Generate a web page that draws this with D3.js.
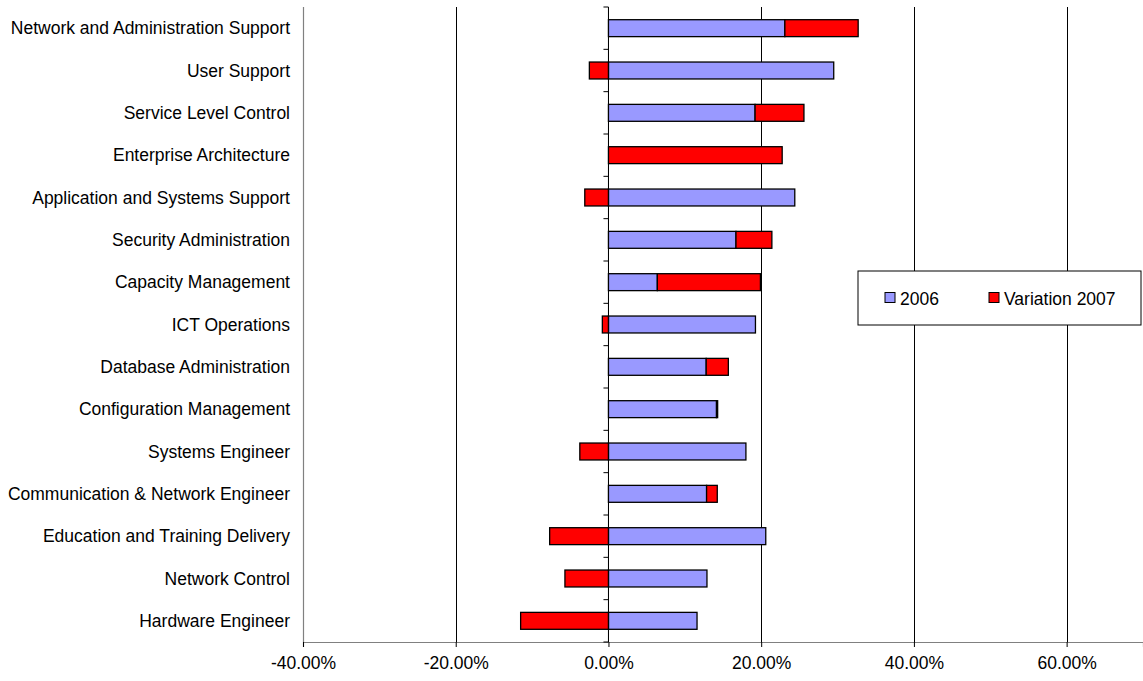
<!DOCTYPE html>
<html><head><meta charset="utf-8">
<script src="https://cdn.jsdelivr.net/npm/d3@7"></script>
<style>body{margin:0;background:#fff;} text{font-family:Arial,"Liberation Sans",sans-serif;}</style>
</head><body>
<svg id="c" width="1143" height="681"></svg>
<script>
const categories = ["Network and Administration Support","User Support","Service Level Control","Enterprise Architecture","Application and Systems Support","Security Administration","Capacity Management","ICT Operations","Database Administration","Configuration Management","Systems Engineer","Communication & Network Engineer","Education and Training Delivery","Network Control","Hardware Engineer"];
const values2006 = [23.1,29.5,19.2,0,24.4,16.7,6.4,19.25,12.8,14.15,18.0,12.85,20.6,12.9,11.6];
const variation2007 = [9.6,-2.5,6.4,22.75,-3.1,4.7,13.5,-0.8,2.9,0.15,-3.75,1.4,-7.7,-5.7,-11.5];
const xTicks = [-40,-20,0,20,40,60];
const seriesNames = ["2006","Variation 2007"];
const colors = ["#9999FF","#FF0000"];

const FS = 17.5;
const svg = d3.select("#c");
const pL = 303, pR = 1143, pT = 7, pB = 642;
const x = d3.scaleLinear().domain([-40,70]).range([pL,pR]);
const y = d3.scaleBand().domain(categories).range([pT,pB]).paddingInner(0.6).paddingOuter(0.3);
const yb = d3.scaleBand().domain(categories).range([pT,pB]);

// gridlines
svg.append("g").selectAll("line").data(xTicks.filter(d=>d!==-40)).join("line")
  .attr("x1",d=>Math.round(x(d))+0.5).attr("x2",d=>Math.round(x(d))+0.5).attr("y1",pT).attr("y2",pB)
  .attr("stroke","#000").attr("stroke-width",1);

// left axis line
svg.append("line").attr("x1",pL+0.5).attr("x2",pL+0.5).attr("y1",pT).attr("y2",pB)
  .attr("stroke","#808080").attr("stroke-width",1.2);

// bottom axis
const xAxis = d3.axisBottom(x).tickValues(xTicks).tickSize(5).tickPadding(10)
  .tickFormat(d=>d.toFixed(2)+"%");
const gx = svg.append("g").attr("transform",`translate(0,${pB})`).call(xAxis);
gx.select(".domain").attr("stroke","#808080").attr("stroke-width",1.2);
gx.selectAll(".tick line").attr("stroke","#000");
gx.selectAll("text").attr("font-size",FS).attr("fill","#000").attr("font-family","Arial, 'Liberation Sans', sans-serif");

// category ticks on zero line
const bounds = categories.map(c=>yb(c)).concat([pB]);
svg.append("g").selectAll("line").data(bounds).join("line")
  .attr("x1",x(0)-5).attr("x2",x(0)).attr("y1",d=>d).attr("y2",d=>d)
  .attr("stroke","#000").attr("stroke-width",1);

// category labels
svg.append("g").selectAll("text").data(categories).join("text")
  .attr("x",290).attr("y",c=>yb(c)+yb.bandwidth()/2).attr("dy","0.35em")
  .attr("text-anchor","end").attr("font-size",FS).attr("fill","#000").text(d=>d);

// bars
const rows = categories.map((c,i)=>({c,b:values2006[i],v:variation2007[i]}));
const g = svg.append("g");
rows.forEach(r=>{
  if (r.b>0) g.append("rect").attr("x",x(0)).attr("width",x(r.b)-x(0))
    .attr("y",y(r.c)).attr("height",y.bandwidth()).attr("fill",colors[0])
    .attr("stroke","#000").attr("stroke-width",1.3);
  let x0, x1;
  if (r.v>=0){ x0 = x(r.b); x1 = x(r.b+r.v);} else { x0 = x(r.v); x1 = x(0);}
  g.append("rect").attr("x",x0).attr("width",Math.max(0.5,x1-x0))
    .attr("y",y(r.c)).attr("height",y.bandwidth()).attr("fill",colors[1])
    .attr("stroke","#000").attr("stroke-width",1.3);
});

// zero line
svg.append("line").attr("x1",x(0)).attr("x2",x(0)).attr("y1",pT).attr("y2",pB)
  .attr("stroke","#000").attr("stroke-width",1);

// legend
const lg = svg.append("g");
lg.append("rect").attr("x",858).attr("y",271).attr("width",283).attr("height",54)
  .attr("fill","#fff").attr("stroke","#000").attr("stroke-width",1);
const lx = [885,989];
seriesNames.forEach((s,i)=>{
  lg.append("rect").attr("x",lx[i]).attr("y",292.5).attr("width",10).attr("height",10)
    .attr("fill",colors[i]).attr("stroke","#000").attr("stroke-width",1);
  lg.append("text").attr("x",lx[i]+15).attr("y",298.5).attr("dy","0.35em")
    .attr("font-size",FS).attr("fill","#000").text(s);
});
</script>
</body></html>
